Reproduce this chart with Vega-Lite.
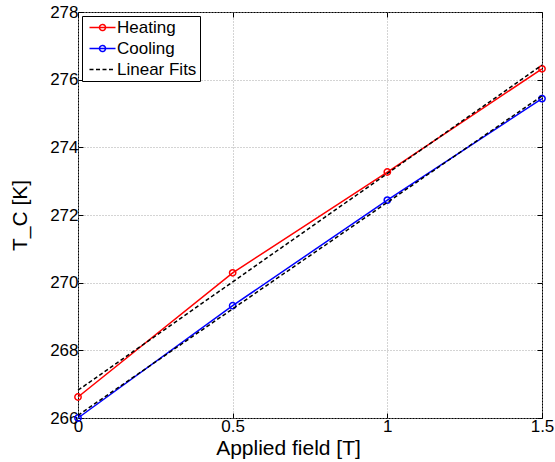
{
  "$schema": "https://vega.github.io/schema/vega-lite/v6.json",
  "width": 464,
  "height": 406,
  "autosize": {"type": "none"},
  "padding": {"left": 78, "top": 12, "right": 13, "bottom": 44},
  "background": "white",
  "config": {
    "font": "Liberation Sans",
    "view": {"stroke": "black", "strokeWidth": 1},
    "axis": {
      "domain": false,
      "grid": true,
      "gridColor": "#a8a8a8",
      "gridDash": [1, 2],
      "gridWidth": 1,
      "ticks": true,
      "tickColor": "black",
      "tickSize": -5,
      "labelFont": "Liberation Sans",
      "labelFontSize": 17,
      "labelColor": "black",
      "titleFont": "Liberation Sans",
      "titleFontSize": 21,
      "titleFontWeight": "normal",
      "titleColor": "black"
    }
  },
  "data": {
    "values": [
      {"series": "Heating", "grp": "Heating", "field": 0, "tc": 266.62},
      {"series": "Heating", "grp": "Heating", "field": 0.5, "tc": 270.29},
      {"series": "Heating", "grp": "Heating", "field": 1, "tc": 273.27},
      {"series": "Heating", "grp": "Heating", "field": 1.5, "tc": 276.32},
      {"series": "Cooling", "grp": "Cooling", "field": 0, "tc": 266.0},
      {"series": "Cooling", "grp": "Cooling", "field": 0.5, "tc": 269.32},
      {"series": "Cooling", "grp": "Cooling", "field": 1, "tc": 272.44},
      {"series": "Cooling", "grp": "Cooling", "field": 1.5, "tc": 275.44},
      {"series": "Linear Fits", "grp": "Heating fit", "field": 0, "tc": 266.82},
      {"series": "Linear Fits", "grp": "Heating fit", "field": 1.5, "tc": 276.43},
      {"series": "Linear Fits", "grp": "Cooling fit", "field": 0, "tc": 266.08},
      {"series": "Linear Fits", "grp": "Cooling fit", "field": 1.5, "tc": 275.52}
    ]
  },
  "layer": [
    {
      "transform": [{"filter": "datum.series !== 'Linear Fits'"}],
      "mark": {"type": "line", "strokeWidth": 1.5},
      "encoding": {
        "x": {
          "field": "field", "type": "quantitative",
          "scale": {"domain": [0, 1.5], "nice": false, "zero": false},
          "axis": {"values": [0, 0.5, 1, 1.5], "format": ".1~f", "title": "Applied field [T]", "labelPadding": 5, "titlePadding": 3, "titleX": 210, "titleAlign": "center", "labelFlush": false}
        },
        "y": {
          "field": "tc", "type": "quantitative",
          "scale": {"domain": [266, 278], "nice": false, "zero": false},
          "axis": {"values": [266, 268, 270, 272, 274, 276, 278], "title": "T_C [K]", "labelPadding": 5, "titlePadding": 19, "labelFlush": false}
        },
        "color": {
          "field": "series", "type": "nominal",
          "scale": {"domain": ["Heating", "Cooling", "Linear Fits"], "range": ["#ff0000", "#0000ff", "#000000"]},
          "legend": {
            "title": null,
            "orient": "top-left",
            "offset": 4,
            "fillColor": "white",
            "strokeColor": "black",
            "padding": 3,
            "labelFontSize": 17,
            "labelFont": "Liberation Sans",
            "labelColor": "black",
            "symbolSize": 100,
            "symbolStrokeWidth": 1.5,
            "symbolOffset": 9,
            "labelOffset": 6,
            "rowPadding": 3,
            "encode": {
              "symbols": {
                "update": {
                  "shape": {"signal": "datum.value === 'Linear Fits' ? 'M-2.6,0H2.6' : 'M-2.6,0H2.6M0.6,0A0.6,0.6,0,1,1,-0.6,0A0.6,0.6,0,1,1,0.6,0'"},
                  "strokeDash": {"signal": "datum.value === 'Linear Fits' ? [4, 2.5] : [1, 0]"},
                  "fill": {"value": "transparent"}
                }
              }
            }
          }
        },
        "detail": {"field": "grp"}
      }
    },
    {
      "transform": [{"filter": "datum.series !== 'Linear Fits'"}],
      "mark": {"type": "point", "shape": "circle", "filled": false, "size": 40, "strokeWidth": 1.5, "opacity": 1},
      "encoding": {
        "x": {"field": "field", "type": "quantitative", "axis": null},
        "y": {"field": "tc", "type": "quantitative", "axis": null},
        "color": {"field": "series", "type": "nominal"}
      }
    },
    {
      "transform": [{"filter": "datum.series === 'Linear Fits'"}],
      "mark": {"type": "line", "strokeWidth": 1.5, "strokeDash": [4, 2.5]},
      "encoding": {
        "x": {"field": "field", "type": "quantitative", "axis": null},
        "y": {"field": "tc", "type": "quantitative", "axis": null},
        "color": {"field": "series", "type": "nominal"},
        "detail": {"field": "grp"}
      }
    },
    {
      "mark": {"type": "point", "opacity": 0},
      "encoding": {
        "x": {"field": "field", "type": "quantitative",
          "axis": {"orient": "top", "values": [0, 0.5, 1, 1.5], "labels": false, "title": null, "grid": false}},
        "y": {"field": "tc", "type": "quantitative",
          "axis": {"orient": "right", "values": [266, 268, 270, 272, 274, 276, 278], "labels": false, "title": null, "grid": false}}
      }
    }
  ],
  "resolve": {"axis": {"x": "independent", "y": "independent"}}
}
